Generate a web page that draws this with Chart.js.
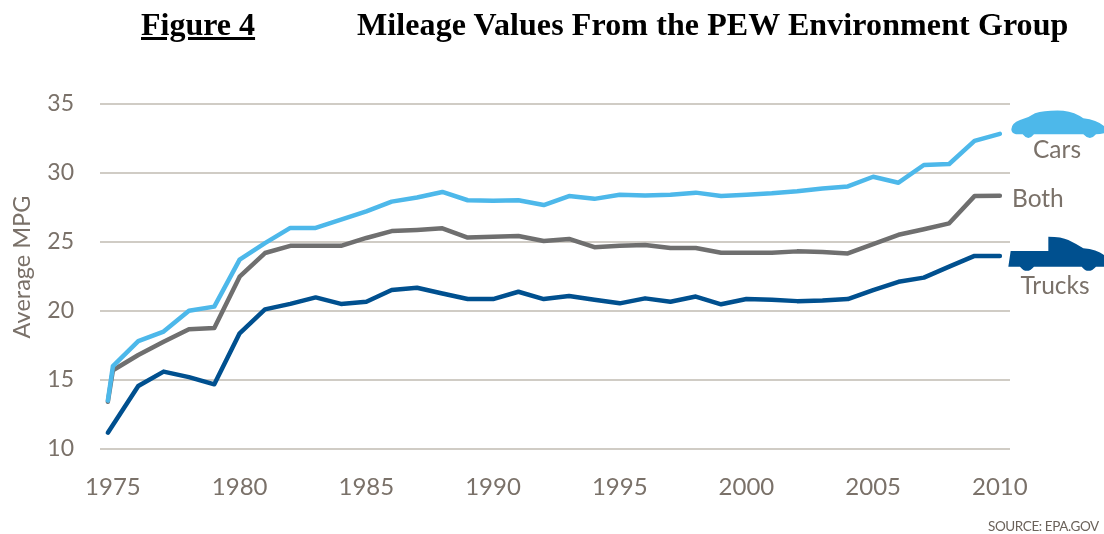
<!DOCTYPE html>
<html>
<head>
<meta charset="utf-8">
<title>Figure 4</title>
<script src="https://cdn.jsdelivr.net/npm/chart.js@4"></script>
<style>
    html, body { margin: 0; background: #fff; overflow: hidden; }
    #wrap { position: relative; width: 1104px; height: 534px; }
    #chart { position: absolute; left: 0; top: 0; }
    .head { position: absolute; top: 6px; font: bold 32px "Liberation Serif", serif; color: #000; white-space: nowrap; }
    #fig { left: 141px; text-decoration: underline; }
    #name { left: 357px; letter-spacing: 0.1px; }
    #source { position: absolute; left: 988px; top: 518px; font: 13.5px Lato, sans-serif; letter-spacing: -0.4px; color: #6b625a; white-space: nowrap; }
</style>
</head>
<body>
<div id="wrap">
    <canvas id="chart" width="1104" height="534"></canvas>
    <div class="head" id="fig">Figure 4</div>
    <div class="head" id="name">Mileage Values From the PEW Environment Group</div>
    <div id="source">SOURCE: EPA.GOV</div>
</div>
<script>
// first point sits just left of the 1975 tick in the original
const years = [1974.8, 1975, 1976, 1977, 1978, 1979, 1980, 1981, 1982, 1983, 1984, 1985, 1986, 1987, 1988, 1989, 1990, 1991, 1992,
    1993, 1994, 1995, 1996, 1997, 1998, 1999, 2000, 2001, 2002, 2003, 2004, 2005, 2006, 2007, 2008, 2009, 2010];
const cars = [13.5, 16, 17.8, 18.5, 20, 20.3, 23.7, 24.9, 26, 26, 26.6, 27.2, 27.9, 28.2, 28.6, 28, 27.97, 28, 27.65,
    28.3, 28.1, 28.4, 28.35, 28.4, 28.55, 28.3, 28.4, 28.5, 28.65, 28.85, 29, 29.7, 29.27, 30.55, 30.62, 32.3, 32.8];
const both = [13.42, 15.7, 16.8, 17.76, 18.66, 18.75, 22.47, 24.18, 24.7, 24.7, 24.7, 25.27, 25.77, 25.85, 25.97, 25.3, 25.35, 25.41, 25.05,
    25.2, 24.6, 24.7, 24.76, 24.54, 24.55, 24.2, 24.2, 24.2, 24.3, 24.25, 24.15, 24.83, 25.5, 25.9, 26.33, 28.3, 28.33];
const trucks = [11.18, null, 14.56, 15.6, 15.2, 14.68, 18.37, 20.1, 20.5, 20.97, 20.5, 20.66, 21.5, 21.67, 21.25, 20.85, 20.85, 21.38, 20.85,
    21.07, 20.8, 20.54, 20.9, 20.66, 21.03, 20.47, 20.85, 20.8, 20.7, 20.75, 20.85, 21.5, 22.1, 22.4, 23.2, 23.97, 23.97];
const xTicks = [1975, 1980, 1985, 1990, 1995, 2000, 2005, 2010];

const textColor = '#7a7169';
// icons are traced in the 3x crop space of the top right corner
const carPath = new Path2D('M634 118Q634 100 660 90Q685 84 705 70Q735 60 790 62Q825 66 850 85Q890 90 912 108L912 130Q900 133 888 133Q870 155 850 133L702 133Q685 155 668 133L648 133Q634 130 634 118Z');
const truckPath = new Path2D('M625 530L632 483L745 483L745 440Q785 440 805 450Q830 462 850 475Q890 478 912 495L912 530L888 530Q865 555 845 530L702 530Q680 555 660 530Z');

function series(label, values, color) {
    return {
        label: label,
        data: years.map((x, i) => ({x: x, y: values[i]})),
        borderColor: color,
        borderWidth: 4.5,
        borderCapStyle: 'round',
        borderJoinStyle: 'round',
        pointRadius: 0,
        tension: 0,
        spanGaps: true
    };
}

// end labels, vehicle icons and the axis title
const extras = {
    id: 'extras',
    afterDraw(chart) {
        const ctx = chart.ctx;
        ctx.save();
        ctx.font = '24.5px Lato, sans-serif';
        ctx.fillStyle = textColor;
        ctx.textBaseline = 'middle';
        ctx.textAlign = 'center';
        ctx.fillText('Cars', 1057, 150);
        ctx.fillText('Trucks', 1055, 286);
        ctx.textAlign = 'left';
        ctx.fillText('Both', 1012, 199);

        ctx.save();
        ctx.translate(22, 267);
        ctx.rotate(-Math.PI / 2);
        ctx.textAlign = 'center';
        ctx.font = '23.5px Lato, sans-serif';
        ctx.fillText('Average MPG', 0, 0);
        ctx.restore();

        ctx.translate(800, 90);
        ctx.scale(1 / 3, 1 / 3);
        ctx.fillStyle = '#4db8ea';
        ctx.fill(carPath);
        ctx.fillStyle = '#00508f';
        ctx.fill(truckPath);
        ctx.restore();
    }
};

new Chart(document.getElementById('chart'), {
    type: 'line',
    data: {
        datasets: [
            series('Cars', cars, '#4db8ea'),
            series('Both', both, '#6f6f6f'),
            series('Trucks', trucks, '#00508f')
        ]
    },
    options: {
        responsive: false,
        animation: false,
        layout: {padding: {top: 103.5, right: 94, left: 0, bottom: 0}},
        plugins: {legend: {display: false}, tooltip: {enabled: false}},
        scales: {
            x: {
                type: 'linear',
                min: 1974.49,
                max: 2010.4,
                grid: {display: false},
                border: {display: false},
                afterBuildTicks(scale) {
                    scale.ticks = xTicks.map(v => ({value: v}));
                },
                afterFit(scale) {
                    scale.height = 85;
                },
                ticks: {
                    autoSkip: false,
                    maxRotation: 0,
                    padding: 16,
                    color: textColor,
                    font: {family: 'Lato', size: 24},
                    callback: v => String(v)
                }
            },
            y: {
                min: 10,
                max: 35,
                border: {display: false},
                grid: {color: '#d0ccc5', lineWidth: 2, drawTicks: false},
                afterFit(scale) {
                    scale.width = 100;
                },
                ticks: {
                    stepSize: 5,
                    padding: 26,
                    color: textColor,
                    font: {family: 'Lato', size: 23}
                }
            }
        }
    },
    plugins: [extras]
});
</script>
</body>
</html>
